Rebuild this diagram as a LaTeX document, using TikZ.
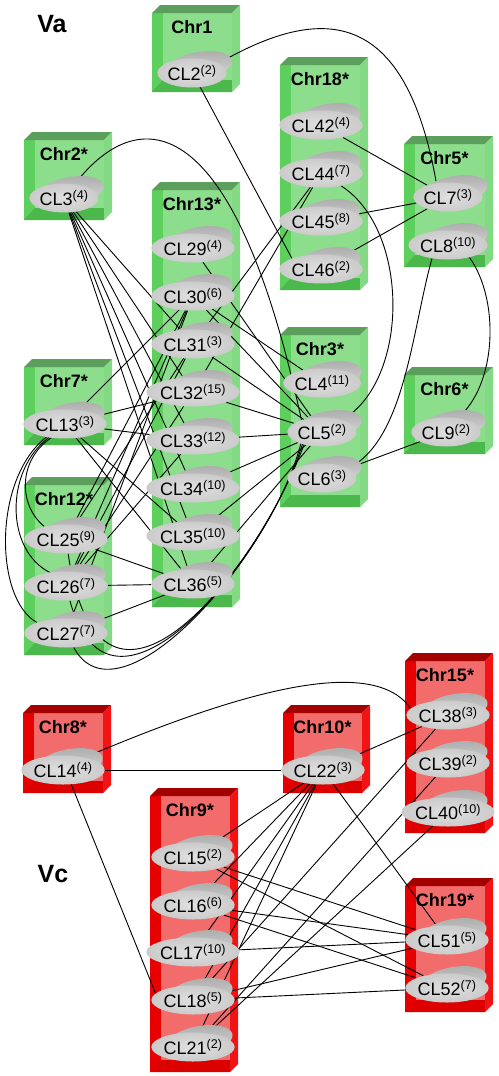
\documentclass[tikz,border=0pt]{standalone}
\usepackage{fontspec}
\setmainfont{Liberation Sans}
\usetikzlibrary{shapes.geometric}
\pgfdeclarelayer{bg}
\pgfsetlayers{bg,main}
% box colours, g = green group, r = red group
\definecolor{frontg}{HTML}{8CDE8C}
\definecolor{leftg}{HTML}{5CCF5C}
\definecolor{botg}{HTML}{4BB84B}
\definecolor{topg}{HTML}{5C9E5C}
\definecolor{sideg}{HTML}{84DA84}
\definecolor{frontr}{HTML}{F26C6C}
\definecolor{leftr}{HTML}{E60000}
\definecolor{botr}{HTML}{DC0000}
\definecolor{topr}{HTML}{A30000}
\definecolor{sider}{HTML}{F21414}
\definecolor{clfront}{HTML}{E0E0E0}
\definecolor{clrim}{HTML}{CBCBCB}
\definecolor{clcap}{HTML}{ABABAB}

\begin{document}
\begin{tikzpicture}[x=1pt,y=-1pt,
    chrtitle/.style={font=\fontsize{18}{18}\selectfont\bfseries,inner sep=0pt},
    clnode/.style={ellipse,minimum width=69pt,minimum height=29pt,inner sep=0pt,
        inner color=clfront,outer color=clrim,font=\fontsize{18}{18}\selectfont},
    clcapshade/.style={top color=clcap,bottom color=clfront},
    vlabel/.style={font=\fontsize{25}{25}\selectfont\bfseries,inner sep=0pt},
    link/.style={black,line width=0.9pt}]
    \useasboundingbox (0,0) rectangle (498,1076);
    \node[vlabel] (va) at (52,24) {Va};
    \node[vlabel] (vc) at (53,874) {Vc};
    % chromosome boxes
    \begin{pgfonlayer}{bg}
    \foreach \nm/\xa/\ya/\xb/\yb/\ttl/\col in {1/152/5/240/92/Chr1/g,2/24/132/112/220/Chr2*/g,
        18/280/57/368/290/Chr18*/g,5/404/136/493/267/Chr5*/g,13/152/182/240/607/Chr13*/g,
        7/24/359/112/445/Chr7*/g,3/280/327/368/507/Chr3*/g,6/404/367/493/454/Chr6*/g,
        12/24/477/112/655/Chr12*/g,8/23/705/111/793/Chr8*/r,10/283/705/370/793/Chr10*/r,
        15/405/653/493/833/Chr15*/r,9/150/788/238/1072/Chr9*/r,19/405/878/493/1012/Chr19*/r}{
        \fill[fill=front\col] (\xa,\ya+8) rectangle (\xb-8,\yb);
        \fill[fill=left\col] (\xa,\ya+8) rectangle (\xa+11,\yb);
        \fill[fill=bot\col] (\xa,\yb) -- (\xa+11,\yb-12) -- (\xb-8,\yb-12) -- (\xb-8,\yb) -- cycle;
        \fill[fill=top\col] (\xa,\ya+8) -- (\xa+8,\ya) -- (\xb,\ya) -- (\xb-8,\ya+8) -- cycle;
        \fill[fill=side\col] (\xb-8,\ya+8) -- (\xb,\ya) -- (\xb,\yb-8) -- (\xb-8,\yb) -- cycle;
        \node[chrtitle] (chr\nm) at ({(\xa+\xb-8)/2},\ya+22) {\ttl};
    }
    \end{pgfonlayer}
    % clusters
    \foreach \n/\x/\y/\k in {2/192/73/2,3/64/198/4,42/321/125/4,44/321/173/7,45/321/221/8,46/321/269/2,
        7/448/197/3,8/448/245/10,29/193/248/4,30/193/296/6,31/193/344/3,32/193/392/15,
        33/193/440/12,34/193/488/10,35/193/536/10,36/193/584/5,13/65/424/3,
        25/66/539/9,26/66/586/7,27/66/633/7,4/322/383/11,5/322/432/2,6/322/478/3,9/446/432/2,
        14/63/770/4,22/323/770/3,38/448/715/3,39/448/763/2,40/448/812/10,
        15/193/857/2,16/193/905/6,17/193/952/10,18/193/1000/5,21/193/1047/2,
        51/447/940/5,52/447/988/7}{
        \shade[clcapshade] (\x+7,\y-7) ellipse [x radius=33pt,y radius=14pt,rotate=10];
        \node[clnode] (CL\n) at (\x,\y) {CL\n\textsuperscript{(\k)}};
    }
    \begin{pgfonlayer}{bg}
    % straight links
    \foreach \a/\b in {42/7,45/7,46/7,3/31,3/32,3/33,3/34,3/35,3/36,
        29/5,30/5,31/5,32/5,33/5,34/5,35/5,36/5,30/4,31/44,32/44,6/9,
        13/30,13/32,13/33,13/35,13/36,25/30,25/31,25/36,
        26/30,26/31,26/32,26/33,26/36,27/30,27/36,
        14/22,22/38,22/15,22/16,22/17,22/18,22/21,22/51,
        38/18,39/21,40/21,15/51,15/52,16/51,16/52,17/51,18/51,18/52}
        \draw[link] (CL\a) -- (CL\b);
    \draw[link] (CL2.300) -- (CL46.160);
    \draw[link] (CL14.300) -- (CL18.170);
    % curved links
    \draw[link] (CL2.20) .. controls (320,5) and (405,5) .. (CL7.130);
    \draw[link] (CL3) .. controls (140,100) and (235,110) .. (CL5.150);
    \draw[link] (CL44) .. controls (410,230) and (410,380) .. (CL5);
    \draw[link] (CL8.220) .. controls (412,330) and (405,440) .. (CL6.20);
    \draw[link] (CL8.330) .. controls (500,300) and (497,385) .. (CL9.50);
    \draw[link] (CL13.225) .. controls (18,460) and (18,505) .. (CL25.150);
    \draw[link] (CL13.220) .. controls (5,470) and (5,550) .. (CL26.140);
    \draw[link] (CL13.215) .. controls (-8,480) and (-5,600) .. (CL27.160);
    \draw[link] (CL25) .. controls (100,770) and (258,570) .. (CL5.215);
    \draw[link] (CL26) .. controls (110,750) and (264,565) .. (CL5.212);
    \draw[link] (CL27) .. controls (118,730) and (270,560) .. (CL5.209);
    \draw[link] (CL14.30) .. controls (220,700) and (370,650) .. (CL38.170);
    \end{pgfonlayer}
\end{tikzpicture}
\end{document}
